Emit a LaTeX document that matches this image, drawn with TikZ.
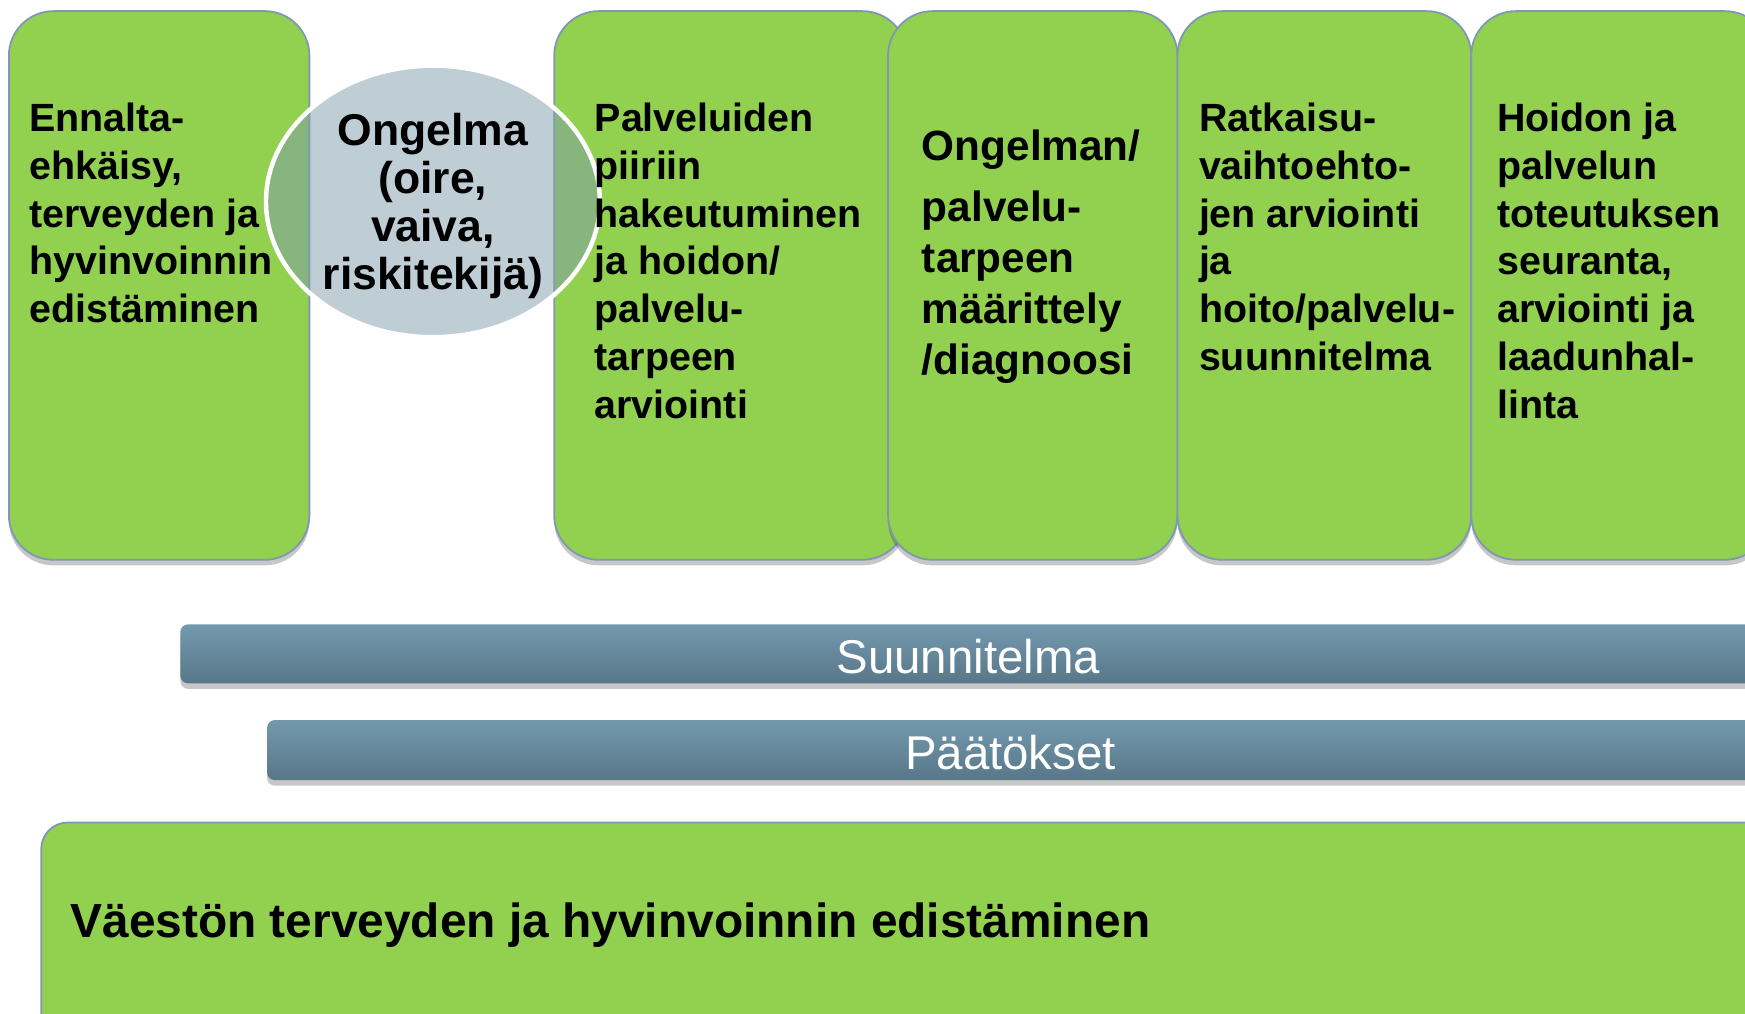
\documentclass[tikz,border=0pt]{standalone}
\usepackage{fontspec}
\setmainfont{Liberation Sans}
\usetikzlibrary{shadows}
\definecolor{boxgreen}{HTML}{92D050}
\definecolor{boxline}{HTML}{7F97B5}
\definecolor{ellfill}{HTML}{7F9BAB}
\definecolor{bartop}{HTML}{7399AE}
\definecolor{barbot}{HTML}{587789}
\begin{document}
\begin{tikzpicture}[x=0.5pt,y=-0.5pt,
  stagebox/.style={draw=boxline, line width=0.8pt, fill=boxgreen, rounded corners=20pt,
    drop shadow={shadow xshift=0pt, shadow yshift=-2.5pt, opacity=0.22, fill=black}},
  barbox/.style={top color=bartop, bottom color=barbot, rounded corners=3.5pt,
    drop shadow={shadow xshift=0pt, shadow yshift=-2.5pt, opacity=0.22, fill=black}},
  stagetext/.style={font=\bfseries\fontsize{17.7}{21.5}\selectfont, align=left, inner sep=0pt, anchor=north west},
  elltext/.style={font=\bfseries\fontsize{20}{21.5}\selectfont, align=center, inner sep=0pt},
  bartext/.style={font=\fontsize{21.3}{24}\selectfont, text=white, inner sep=0pt},
  bigtext/.style={font=\bfseries\fontsize{21.5}{24}\selectfont, inner sep=0pt, anchor=base west}]
\useasboundingbox (0,0) rectangle (1568,911);
\clip (0,0) rectangle (1568,911);
% stage boxes
\draw[stagebox] (8,10) rectangle (278,503);
\draw[stagebox] (498,10) rectangle (815,503);
\draw[stagebox] (798,10) rectangle (1058,503);
\draw[stagebox] (1058,10) rectangle (1322,503);
\draw[stagebox] (1322,10) rectangle (1590,503);
% problem ellipse
\draw[fill=ellfill, fill opacity=0.5, draw=white, line width=2pt] (389,181) ellipse [x radius=150, y radius=122];
% bars
\shade[barbox] (162,561) rectangle (1600,614);
\shade[barbox] (240,647) rectangle (1600,701);
% bottom box
\draw[stagebox, rounded corners=12pt] (37,739) rectangle (1600,935);
% texts
\node[stagetext] (t1) at (26,92) {Ennalta-\\ehkäisy,\\terveyden ja\\hyvinvoinnin\\edistäminen};
\node[elltext] (te) at (389,185) {Ongelma\\(oire,\\vaiva,\\riskitekijä)};
\node[stagetext] (t3) at (534,92) {Palveluiden\\piiriin\\hakeutuminen\\ja hoidon/\\palvelu-\\tarpeen\\arviointi};
\node[stagetext, font=\bfseries\fontsize{19}{23}\selectfont] (t4) at (828,116) {Ongelman/\\[4.5pt]palvelu-\\tarpeen\\määrittely\\/diagnoosi};
\node[stagetext] (t5) at (1077,92) {Ratkaisu-\\vaihtoehto-\\jen arviointi\\ja\\hoito/palvelu-\\suunnitelma};
\node[stagetext] (t6) at (1345,92) {Hoidon ja\\palvelun\\toteutuksen\\seuranta,\\arviointi ja\\laadunhal-\\linta};
\node[bartext] (b1) at (870,590) {Suunnitelma};
\node[bartext] (b2) at (908,676) {Päätökset};
\node[bigtext] (tb) at (63,842) {Väestön terveyden ja hyvinvoinnin edistäminen};
\end{tikzpicture}
\end{document}
